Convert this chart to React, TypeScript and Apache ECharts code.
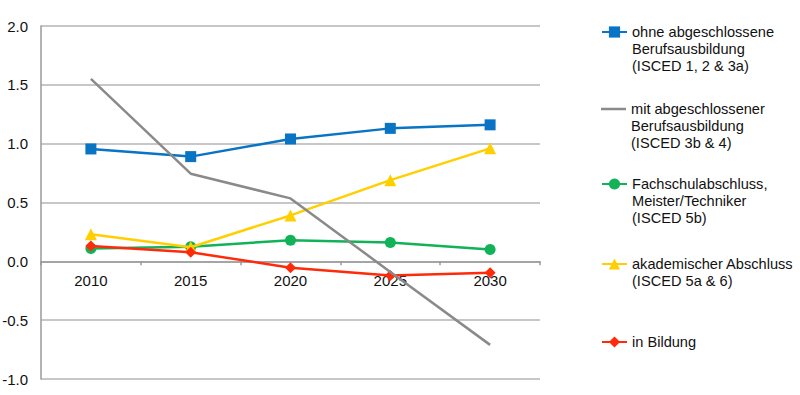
import React, { useEffect, useRef } from "react";
import * as echarts from "echarts";

const years = ["2010", "2015", "2020", "2025", "2030"];
const ohneAbschluss = [0.955, 0.89, 1.04, 1.13, 1.16];
const mitBerufsausbildung = [1.55, 0.745, 0.535, -0.09, -0.71];
const fachschule = [0.11, 0.124, 0.18, 0.16, 0.1];
const akademisch = [0.23, 0.12, 0.39, 0.69, 0.96];
const inBildung = [0.13, 0.077, -0.054, -0.12, -0.097];

const names = [
  "ohne abgeschlossene Berufsausbildung (ISCED 1, 2 & 3a)",
  "mit abgeschlossener Berufsausbildung (ISCED 3b & 4)",
  "Fachschulabschluss, Meister/Techniker (ISCED 5b)",
  "akademischer Abschluss (ISCED 5a & 6)",
  "in Bildung",
];
const legendLines = [
  ["ohne abgeschlossene", "Berufsausbildung", "(ISCED 1, 2 & 3a)"],
  ["mit abgeschlossener", "Berufsausbildung", "(ISCED 3b & 4)"],
  ["Fachschulabschluss,", "Meister/Techniker", "(ISCED 5b)"],
  ["akademischer Abschluss", "(ISCED 5a & 6)"],
  ["in Bildung"],
];
const colors = ["#0a74c4", "#8a8a8a", "#12b258", "#ffcf00", "#ff2a0a"];

export default function App() {
  const ref = useRef<HTMLDivElement>(null);
  useEffect(() => {
    if (!ref.current) return;
    const chart = echarts.init(ref.current, null, { renderer: "svg" });
    const font = "'Liberation Sans', Arial, Helvetica, sans-serif";
    const lineH = 17;
    const iconY = [33, 110, 185, 265, 343];
    const gridTop = 26;
    const gridBottom = 16;
    const plotH = 395 - gridTop - gridBottom;
    const zeroOffset = -(plotH * 1) / 3; // 0 lies one third above the bottom (-1..2)
    const legends = legendLines.map((lines, i) => {
      const n = lines.length;
      const blanks = n - 1;
      const all = [...Array(blanks).fill(" "), ...lines];
      const content = all.map((l) => `{a|${l}}`).join("\n");
      const blockH = all.length * lineH;
      const item: any = { name: names[i] };
      if (i === 1) {
        item.icon =
          "path://M0,0 L25,0 L25,0.01 L0,0.01 Z M0,5.75 L25,5.75 L25,8.25 L0,8.25 Z M0,13.99 L25,13.99 L25,14 L0,14 Z";
        item.itemStyle = { color: colors[1] };
      }
      return {
        show: true,
        data: [item],
        left: 601,
        top: iconY[i] - Math.max(blockH, 14) / 2,
        padding: 0,
        itemWidth: 25,
        itemHeight: 14,
        itemGap: 0,
        selectedMode: false,
        formatter: () => content,
        textStyle: {
          fontFamily: font,
          fontSize: 14.6,
          color: "#111",
          rich: {
            a: { fontFamily: font, fontSize: 14.6, color: "#111", lineHeight: lineH },
          },
        },
      };
    });
    const seriesData = [ohneAbschluss, mitBerufsausbildung, fachschule, akademisch, inBildung];
    const symbols = ["rect", "none", "circle", "triangle", "diamond"];
    const symbolSizes = [11, 0, 11, 12, 11];
    const zs = [2, 6, 3, 4, 5];
    const option = {
      animation: false,
      backgroundColor: "#ffffff",
      textStyle: { fontFamily: font },
      grid: {
        left: 41,
        right: 260,
        top: gridTop,
        bottom: gridBottom,
        containLabel: false,
        outerBoundsMode: "none",
      },
      legend: legends,
      xAxis: {
        type: "category",
        data: years,
        boundaryGap: true,
        position: "bottom",
        offset: zeroOffset,
        axisLine: { onZero: false, lineStyle: { color: "#9a9a9a", width: 1.5 } },
        axisTick: { show: true, length: 4, lineStyle: { color: "#9a9a9a", width: 1.5 } },
        axisLabel: { fontFamily: font, fontSize: 15, color: "#111", margin: 12 },
        splitLine: { show: false },
      },
      yAxis: {
        type: "value",
        min: -1,
        max: 2,
        interval: 0.5,
        axisLine: { show: true, lineStyle: { color: "#9a9a9a", width: 1.5 } },
        axisTick: { show: false },
        axisLabel: {
          fontFamily: font,
          fontSize: 15,
          color: "#111",
          margin: 13,
          formatter: (v: number) => v.toFixed(1),
        },
        splitLine: { show: true, lineStyle: { color: "#b4b4b4", width: 1.5 } },
      },
      series: names.map((n, i) => ({
        name: n,
        type: "line",
        data: seriesData[i],
        symbol: symbols[i],
        showSymbol: symbols[i] !== "none",
        symbolSize: symbolSizes[i],
        z: zs[i],
        lineStyle: { color: colors[i], width: 2.5 },
        itemStyle: { color: colors[i] },
        emphasis: { disabled: true },
      })),
    };
    chart.setOption(option as any);
    return () => chart.dispose();
  }, []);
  return <div ref={ref} style={{ width: 800, height: 395, position: "absolute", left: 0, top: 0 }} />;
}
